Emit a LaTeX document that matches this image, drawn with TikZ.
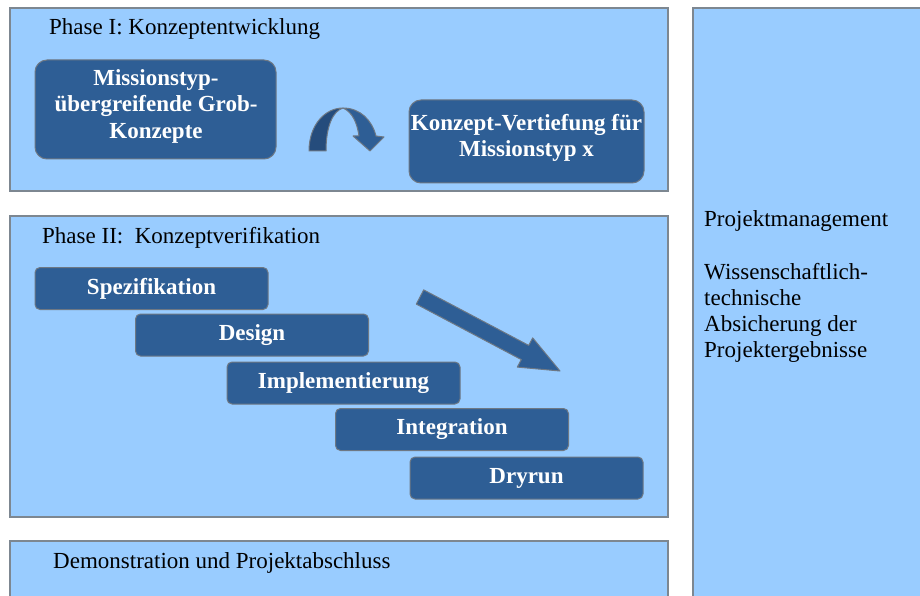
\documentclass[tikz,border=0pt]{standalone}
\usepackage{fontspec}
\setmainfont{Liberation Serif}
\definecolor{panelblue}{RGB}{153,204,255}
\definecolor{panelline}{RGB}{125,135,145}
\definecolor{boxblue}{RGB}{46,94,149}
\definecolor{boxshade}{RGB}{37,76,124}
\definecolor{boxline}{RGB}{110,120,132}
\begin{document}
\begin{tikzpicture}[x=1pt,y=-1pt,
  panel/.style={draw=panelline, fill=panelblue, line width=1.3pt},
  stepbox/.style={draw=boxline, fill=boxblue, line width=1pt, rounded corners=5pt,
    inner sep=0pt, minimum width=233pt, minimum height=42pt,
    text=white, font=\fontsize{23}{26.5}\selectfont\bfseries, align=center},
  conceptbox/.style={draw=boxline, fill=boxblue, line width=1pt, rounded corners=12pt,
    inner sep=0pt},
  boxtext/.style={inner sep=0pt, text=white, align=center,
    font=\fontsize{23}{26.5}\selectfont\bfseries},
  title/.style={anchor=base west, inner sep=0pt, font=\fontsize{23}{26.5}\selectfont},
  blockarrow/.style={draw=boxline, line width=1pt, line join=round}
]
\useasboundingbox (0,0) rectangle (920,596);
\clip (0,0) rectangle (920,596);
\fill[white] (0,0) rectangle (920,596);

% phase panels and the side panel
\draw[panel] (10,8) rectangle (668,191);
\draw[panel] (10,216) rectangle (668,517);
\draw[panel] (10,541) rectangle (668,610);
\draw[panel] (693,8) rectangle (930,610);

\node[title] (t1) at (49,35) {Phase I: Konzeptentwicklung};
\node[title] (t2) at (42,243) {Phase II:\ \ Konzeptverifikation};
\node[title] (t3) at (53,568) {Demonstration und Projektabschluss};

% side panel text
\node[title] (pm)  at (704,226) {Projektmanagement};
\node[title] (ws1) at (704,279) {Wissenschaftlich-};
\node[title] (ws2) at (704,305) {technische};
\node[title] (ws3) at (704,331) {Absicherung der};
\node[title] (ws4) at (704,357) {Projektergebnisse};

% phase I concept boxes
\node[conceptbox, minimum width=241pt, minimum height=99pt] (grob) at (155.5,109.5) {};
\node[boxtext] (grobtext) at (156,106.3) {Missionstyp-\\übergreifende Grob-\\Konzepte};
\node[conceptbox, minimum width=235pt, minimum height=83pt] (vertief) at (526.5,141.5) {};
\node[boxtext] (vertieftext) at (526.5,138) {Konzept-Vertiefung für\\Missionstyp x};

% curved arrow between the concept boxes
\fill[boxshade, blockarrow] (309,151) .. controls (309,125) and (325,108) .. (343,108)
  .. controls (333,111) and (326,126) .. (326,151) -- cycle;
\fill[boxblue, blockarrow] (343,108) .. controls (360,108) and (372,120) .. (376,136)
  -- (384,137) -- (370,151) -- (353,136) -- (359,136)
  .. controls (357,122) and (352,112) .. (343,108) -- cycle;

% phase II waterfall steps
\node[stepbox] (spez)   at (151.5,288.5) {Spezifikation};
\node[stepbox] (design) at (252,335)     {Design};
\node[stepbox] (impl)   at (343.5,383)   {Implementierung};
\node[stepbox] (integ)  at (452,429.5)   {Integration};
\node[stepbox] (dry)    at (526.5,478)   {Dryrun};

% downward block arrow
\fill[boxblue, blockarrow] (423.7,289.9) -- (528.7,345.4) -- (532.7,337.9) -- (560,371)
  -- (517.3,367.1) -- (521.3,359.6) -- (416.3,304.1) -- cycle;
\end{tikzpicture}
\end{document}
